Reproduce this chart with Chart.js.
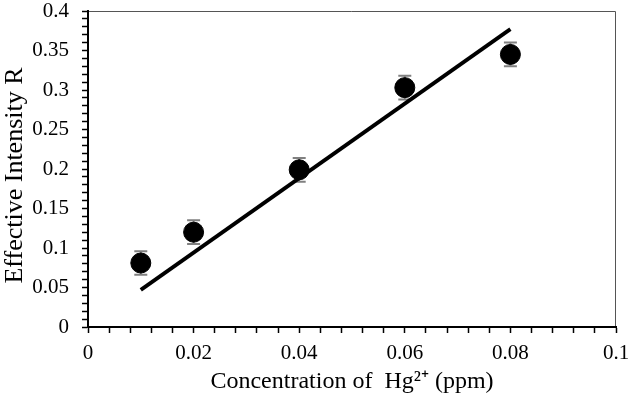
<!DOCTYPE html>
<html>
<head>
<meta charset="utf-8">
<script src="https://cdn.jsdelivr.net/npm/chart.js@4"></script>
<style>
  html, body { margin: 0; padding: 0; background: #fff; }
</style>
</head>
<body>
<canvas id="myChart" width="629" height="396"></canvas>
<script>
// values
const concentrations = [0.01, 0.02, 0.04, 0.06, 0.08];
const intensity = [0.081, 0.120, 0.199, 0.303, 0.345];
const errors = [0.015, 0.015, 0.015, 0.015, 0.015];
const fitX = [0.01, 0.08];
const fitY = [0.047, 0.377];

const serif = '"Liberation Serif", "Times New Roman", serif';

// error bars drawn behind the markers
const errorBars = {
  id: 'errorBars',
  beforeDatasetsDraw(chart) {
    const { ctx, scales: { x, y } } = chart;
    ctx.save();
    ctx.strokeStyle = '#808080';
    ctx.lineWidth = 2;
    concentrations.forEach((c, i) => {
      const px = x.getPixelForValue(c);
      const top = y.getPixelForValue(intensity[i] + errors[i]);
      const bot = y.getPixelForValue(intensity[i] - errors[i]);
      ctx.beginPath();
      ctx.moveTo(px, top); ctx.lineTo(px, bot);
      ctx.moveTo(px - 6.5, top); ctx.lineTo(px + 6.5, top);
      ctx.moveTo(px - 6.5, bot); ctx.lineTo(px + 6.5, bot);
      ctx.stroke();
    });
    ctx.restore();
  }
};

// thin frame on top and right
const frame = {
  id: 'frame',
  beforeDraw(chart) {
    const { ctx, chartArea: a } = chart;
    ctx.save();
    ctx.strokeStyle = '#555';
    ctx.lineWidth = 1;
    ctx.beginPath();
    ctx.moveTo(a.left, a.top + 0.5);
    ctx.lineTo(a.right - 0.5, a.top + 0.5);
    ctx.lineTo(a.right - 0.5, a.bottom);
    ctx.stroke();
    ctx.restore();
  }
};

const ctx = document.getElementById('myChart').getContext('2d');

const myChart = new Chart(ctx, {
  type: 'scatter',
  data: {
    datasets: [
      {
        label: 'Fit',
        type: 'line',
        data: fitX.map((v, i) => ({ x: v, y: fitY[i] })),
        borderColor: '#000',
        borderWidth: 3.8,
        pointRadius: 0,
        fill: false,
        order: 2
      },
      {
        label: 'Effective Intensity R',
        data: concentrations.map((v, i) => ({ x: v, y: intensity[i] })),
        backgroundColor: '#000',
        borderColor: '#000',
        pointRadius: 10,
        pointHoverRadius: 10,
        order: 1
      }
    ]
  },
  options: {
    responsive: false,
    animation: false,
    maintainAspectRatio: false,
    layout: { padding: { top: 11, right: 13, left: 0, bottom: 0 } },
    plugins: {
      legend: { display: false },
      tooltip: { enabled: false }
    },
    scales: {
      x: {
        type: 'linear',
        min: 0,
        max: 0.1,
        afterFit: s => { s.height = 69; s.paddingLeft = 0; s.paddingRight = 0; },
        border: { color: '#000', width: 2 },
        grid: { drawOnChartArea: false, color: '#000', tickLength: 6, tickWidth: 1.5 },
        ticks: {
          stepSize: 0.004,
          autoSkip: false,
          maxRotation: 0,
          padding: 8,
          color: '#000',
          font: { family: serif, size: 21 },
          callback: v => Math.round(v * 1000) % 20 === 0 ? String(+v.toFixed(3)) : ''
        },
        title: {
          display: true,
          text: 'Concentration of  Hg²⁺ (ppm)',
          color: '#000',
          font: { family: serif, size: 24 },
          padding: { top: 0, bottom: 0 }
        }
      },
      y: {
        min: 0,
        max: 0.4,
        afterFit: s => { s.width = 88; s.paddingTop = 0; s.paddingBottom = 0; },
        border: { color: '#000', width: 2 },
        grid: { drawOnChartArea: false, color: '#000', tickLength: 6, tickWidth: 1.5 },
        ticks: {
          stepSize: 0.01,
          autoSkip: false,
          padding: 13,
          color: '#000',
          font: { family: serif, size: 21 },
          callback: v => Math.round(v * 1000) % 50 === 0 ? String(+v.toFixed(3)) : ''
        },
        title: {
          display: true,
          // two trailing spaces nudge the text down a little, as in the original
          text: 'Effective Intensity R\u00a0\u00a0',
          color: '#000',
          font: { family: serif, size: 26 },
          padding: { top: 0, bottom: 0 }
        }
      }
    }
  },
  plugins: [errorBars, frame]
});
</script>
</body>
</html>
